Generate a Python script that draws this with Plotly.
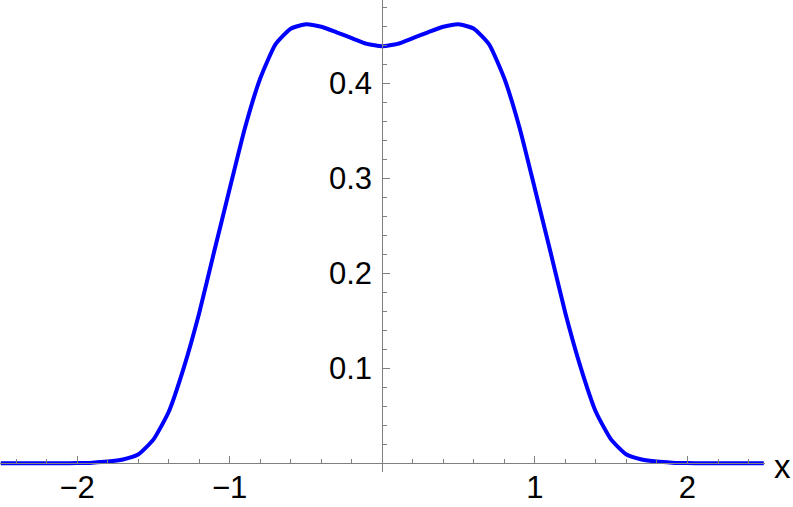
import plotly.graph_objects as go

# data (symmetric curve, right half then mirrored)
x_half = [0.0, 0.1, 0.2, 0.3, 0.4, 0.5, 0.6, 0.7, 0.8, 0.9, 1.0, 1.1, 1.2, 1.3,
          1.4, 1.5, 1.6, 1.7, 1.8, 1.9, 2.0, 2.1, 2.2, 2.3, 2.4, 2.5]
y_half = [0.439, 0.4415, 0.4475, 0.4537, 0.4595, 0.4622, 0.4575, 0.441, 0.405,
          0.353, 0.289, 0.224, 0.158, 0.101, 0.054, 0.0249, 0.0092, 0.0040,
          0.0018, 0.0007, 0.0002, 0.0001, 0.0, 0.0, 0.0, 0.0]

x_vals = [-v for v in reversed(x_half[1:])] + x_half
y_vals = list(reversed(y_half[1:])) + y_half

x_ticks = [-2, -1, 1, 2]
y_ticks = [0.1, 0.2, 0.3, 0.4]
y_ticktext = ["0.1", "0.2", "0.3", "0.4"]

W, H = 793, 507
axis_color = "#808080"
font = "Liberation Sans, Arial, sans-serif"

fig = go.Figure()
fig.add_trace(go.Scatter(x=x_vals, y=y_vals, mode="lines",
                         line=dict(color="#0000FF", width=4, shape="spline", smoothing=0.5),
                         hoverinfo="skip", showlegend=False, cliponaxis=False))

fig.update_layout(
    width=W, height=H,
    margin=dict(l=0, r=0, t=0, b=0, autoexpand=False),
    paper_bgcolor="white", plot_bgcolor="white",
    xaxis=dict(
        domain=[0, 765 / W], range=[-2.505, 2.508],
        anchor="free", position=(H - 463.3) / H,
        automargin=False,
        showgrid=False, zeroline=False,
        showline=True, linecolor=axis_color, linewidth=1,
        tickmode="array", tickvals=x_ticks,
        ticks="inside", ticklen=7, tickwidth=1, tickcolor=axis_color,
        minor=dict(dtick=0.2, tick0=0, ticks="inside", ticklen=4, tickwidth=1,
                   tickcolor=axis_color, showgrid=False),
        tickfont=dict(family=font, size=31, color="black"),
        ticklabelstandoff=-4,
    ),
    yaxis=dict(
        domain=[(H - 472) / H, 1], range=[-0.00916, 0.4877],
        anchor="free", position=382.2 / W,
        automargin=False,
        showgrid=False, zeroline=False,
        showline=True, linecolor=axis_color, linewidth=1,
        tickmode="array", tickvals=y_ticks, ticktext=y_ticktext,
        ticks="inside", ticklen=7, tickwidth=1, tickcolor=axis_color,
        minor=dict(dtick=0.02, tick0=0, ticks="inside", ticklen=4, tickwidth=1,
                   tickcolor=axis_color, showgrid=False),
        tickfont=dict(family=font, size=31, color="black"),
        ticklabelstandoff=4,
    ),
    annotations=[dict(text="x", xref="paper", yref="paper",
                      x=782 / W, y=(H - 466) / H, showarrow=False,
                      xanchor="center", yanchor="middle",
                      font=dict(family=font, size=33, color="black"))],
)

fig.write_html("out.html",
               config={"displayModeBar": False},
               post_script="document.body.style.margin='0px';document.body.style.padding='0px';")
